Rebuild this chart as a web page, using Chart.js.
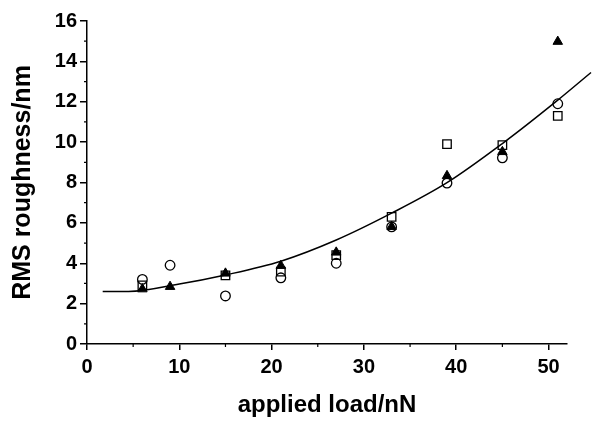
<!doctype html>
<html>

<head>
	<title>RMS roughness vs applied load</title>
	<script src="https://cdn.jsdelivr.net/npm/chart.js@4.4.0/dist/chart.umd.min.js"></script>
	<meta charset="UTF-8" http-equiv="content-type">
</head>
<body>
<div id="canvas-holder">
	<canvas id="chart-area" width="592" height="422"></canvas>
</div>
<script>
	// applied load (nN) of the measured points
	var loads = [6, 9, 15, 21, 27, 33, 39, 45, 51];
	// three measurement series, RMS roughness in nm
	var circles = [3.2, 3.9, 2.38, 3.28, 4.0, 5.8, 7.97, 9.22, 11.9];
	var squares = [2.9, null, 3.4, 3.58, 4.4, 6.3, 9.9, 9.85, 11.3];
	var triangles = [2.72, 2.84, 3.5, 3.88, 4.54, 5.81, 8.33, 9.52, 14.98];
	// fitted curve
	var fitX = [1.7, 4.5, 10, 15, 21, 27, 33, 39, 45, 51, 54.6];
	var fitY = [2.6, 2.6, 2.97, 3.42, 4.1, 5.15, 6.48, 7.99, 9.93, 12.08, 13.45];
	// minor tick positions
	var xMinor = [5, 15, 25, 35, 45];
	var yMinor = [1, 3, 5, 7, 9, 11, 13, 15];

	var fontFamily = "'Liberation Sans', Arial, sans-serif";

	function toPoints(xs, ys) {
		var pts = [];
		for (var i = 0; i < xs.length; i++) {
			if (ys[i] !== null) pts.push({x: xs[i], y: ys[i]});
		}
		return pts;
	}

	// short unlabelled ticks between the major ones
	var minorTicks = {
		id: 'minorTicks',
		afterDraw: function (chart) {
			var ctx = chart.ctx;
			var xs = chart.scales.x, ys = chart.scales.y;
			ctx.save();
			ctx.strokeStyle = '#000';
			ctx.lineWidth = 1.2;
			ctx.beginPath();
			xMinor.forEach(function (v) {
				var px = xs.getPixelForValue(v);
				ctx.moveTo(px, ys.bottom);
				ctx.lineTo(px, ys.bottom + 3);
			});
			yMinor.forEach(function (v) {
				var py = ys.getPixelForValue(v);
				ctx.moveTo(xs.left, py);
				ctx.lineTo(xs.left - 3, py);
			});
			ctx.stroke();
			ctx.restore();
		}
	};

	var config = {
		type: 'scatter',
		data: {
			datasets: [
				{
					label: 'fit',
					type: 'line',
					data: toPoints(fitX, fitY),
					borderColor: '#000',
					borderWidth: 1.5,
					pointRadius: 0,
					fill: false,
					cubicInterpolationMode: 'monotone',
					clip: false
				},
				{
					label: 'triangles',
					data: toPoints(loads, triangles),
					pointStyle: 'triangle',
					pointRadius: 5.5,
					backgroundColor: '#000',
					borderColor: '#000',
					borderWidth: 1
				},
				{
					label: 'squares',
					data: toPoints(loads, squares),
					pointStyle: 'rect',
					pointRadius: 6,
					backgroundColor: 'rgba(0,0,0,0)',
					borderColor: '#000',
					borderWidth: 1.3
				},
				{
					label: 'circles',
					data: toPoints(loads, circles),
					pointStyle: 'circle',
					pointRadius: 4.8,
					backgroundColor: 'rgba(0,0,0,0)',
					borderColor: '#000',
					borderWidth: 1.3
				}
			]
		},
		options: {
			responsive: false,
			animation: false,
			layout: {
				padding: {top: 21, right: 25, left: 0, bottom: 0}
			},
			plugins: {
				legend: {display: false},
				tooltip: {enabled: false}
			},
			scales: {
				x: {
					type: 'linear',
					min: 0,
					max: 52,
					afterFit: function (scale) { scale.height = 78; },
					border: {display: true, color: '#000', width: 1.5},
					grid: {drawOnChartArea: false, color: '#000', lineWidth: 1.5, tickLength: 6},
					ticks: {
						stepSize: 10,
						includeBounds: false,
						maxRotation: 0,
						padding: 5,
						color: '#000',
						font: {family: fontFamily, size: 20, weight: 'bold'}
					},
					title: {
						display: true,
						text: 'applied load/nN',
						color: '#000',
						padding: {top: 0, bottom: 2},
						font: {family: fontFamily, size: 24, weight: 'bold'}
					}
				},
				y: {
					min: 0,
					max: 16,
					afterFit: function (scale) { scale.width = 87; },
					border: {display: true, color: '#000', width: 1.5},
					grid: {drawOnChartArea: false, color: '#000', lineWidth: 1.5, tickLength: 7},
					ticks: {
						stepSize: 2,
						padding: 3,
						color: '#000',
						font: {family: fontFamily, size: 20, weight: 'bold'}
					},
					title: {
						display: true,
						text: 'RMS roughness/nm',
						color: '#000',
						padding: {top: 8, bottom: 0},
						font: {family: fontFamily, size: 25, weight: 'bold'}
					}
				}
			}
		},
		plugins: [minorTicks]
	};

	window.onload = function () {
		var ctx = document.getElementById('chart-area').getContext('2d');
		window.myChart = new Chart(ctx, config);
	};
</script>
</body>
<style>
	body {
		margin: 0;
		background: #fff;
	}
	canvas {
		display: block;
	}
</style>

</html>
